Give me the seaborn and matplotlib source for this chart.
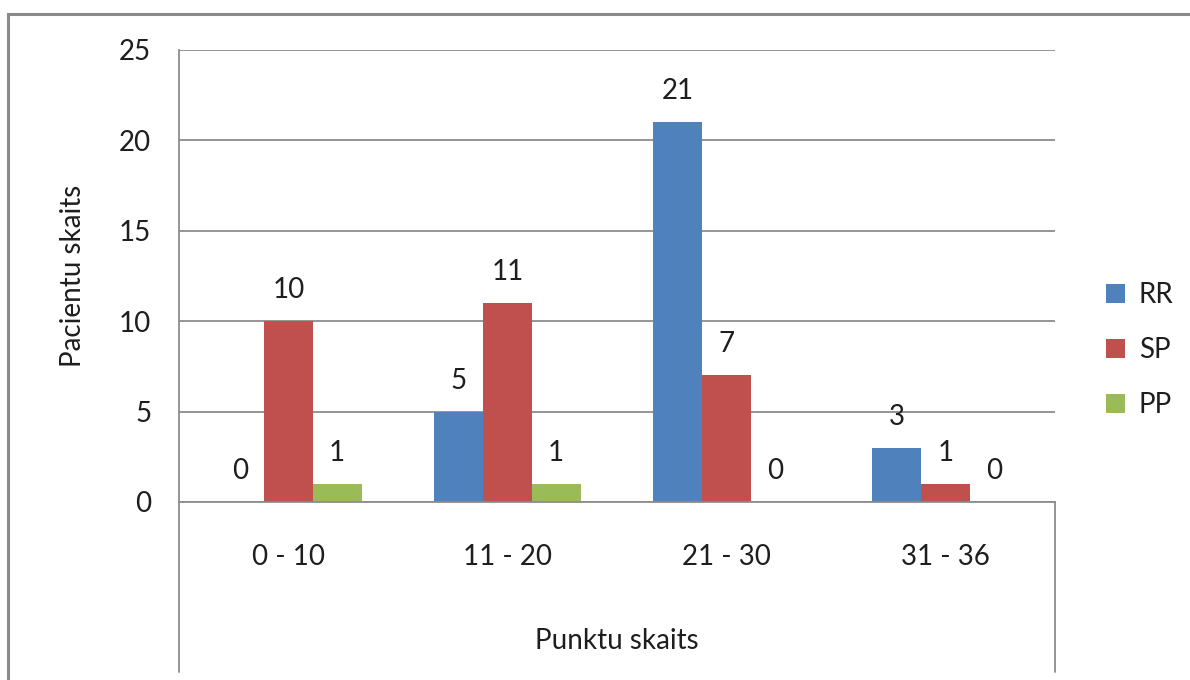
import matplotlib
matplotlib.use("Agg")
import matplotlib.pyplot as plt
from matplotlib.lines import Line2D
from matplotlib.patches import Rectangle
import seaborn as sns
import pandas as pd

# Score ranges and patient counts per group
categories = ["0 - 10", "11 - 20", "21 - 30", "31 - 36"]
series_names = ["RR", "SP", "PP"]
rr_values = [0, 5, 21, 3]
sp_values = [10, 11, 7, 1]
pp_values = [1, 1, 0, 0]
y_ticks = [0, 5, 10, 15, 20, 25]

colors = ["#4F81BD", "#C0504D", "#9BBB59"]
grid_color = "#8C8C8C"
text_color = "#1E1E1E"
fs = 20

df = pd.DataFrame({
    "Punktu skaits": categories * 3,
    "Sērija": [s for s in series_names for _ in categories],
    "Pacientu skaits": rr_values + sp_values + pp_values,
})

sns.set_theme(style="white")
plt.rcParams["font.family"] = ["Lato", "DejaVu Sans"]
plt.rcParams["text.color"] = text_color

fig = plt.figure(figsize=(11.9, 6.8), dpi=100)
ax = fig.add_axes([179 / 1190, 1 - 502 / 680, (1055 - 179) / 1190, (502 - 50) / 680])

sns.barplot(data=df, x="Punktu skaits", y="Pacientu skaits", hue="Sērija",
            palette=colors, width=0.667, dodge=True, saturation=1,
            linewidth=0, ax=ax, legend=True)

ax.set_ylim(0, 25)
ax.set_yticks(y_ticks)
ax.set_xlim(-0.5, len(categories) - 0.5)

# Value labels above each bar
for cont in ax.containers:
    ax.bar_label(cont, padding=13, fontsize=fs, color=text_color)

# Horizontal gridlines
ax.yaxis.grid(True, color=grid_color, linewidth=1.3)
ax.set_axisbelow(True)
for side in ["top", "right"]:
    ax.spines[side].set_visible(False)
for side in ["left", "bottom"]:
    ax.spines[side].set_color(grid_color)
    ax.spines[side].set_linewidth(1.3)

ax.tick_params(axis="y", length=8, width=1.3, color=grid_color,
               labelsize=fs, labelcolor=text_color, pad=12)
ax.tick_params(axis="x", length=0, labelsize=fs, labelcolor=text_color, pad=30)

# Vertical frame lines below the category axis
for xpos in (0, 1):
    ax.add_line(Line2D([xpos, xpos], [-0.376, 0], transform=ax.transAxes,
                       color=grid_color, linewidth=1.3, clip_on=False))

ax.set_xlabel("Punktu skaits", fontsize=fs, color=text_color, labelpad=42)
ax.set_ylabel("Pacientu skaits", fontsize=fs, color=text_color, labelpad=24)

# Legend on the right
handles, labels = ax.get_legend_handles_labels()
ax.legend(handles, labels, loc="center left", bbox_to_anchor=(1.045, 0.336),
          frameon=False, fontsize=fs, handlelength=0.7, handleheight=0.7,
          handletextpad=0.5, labelspacing=1.05, borderaxespad=0)

# Chart frame
fig.patches.append(Rectangle((8 / 1190, -0.1), 1.2, 1 - 14 / 680 + 0.1,
                             transform=fig.transFigure, fill=False,
                             edgecolor="#8A8A8A", linewidth=2.2))

fig.savefig("out.png", dpi=100)
